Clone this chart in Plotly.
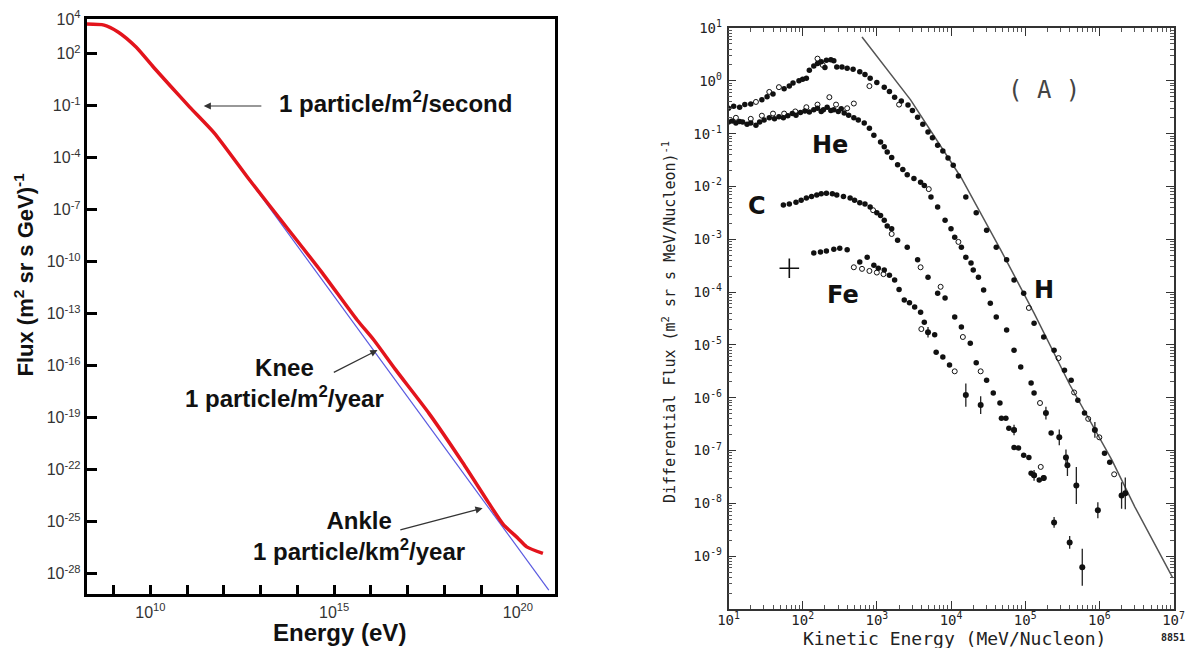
import numpy as np
import plotly.graph_objects as go

W, H = 1189, 648

# ---------------- Left panel: all-particle spectrum (log10 values) ----------------
spec_logE = [8.27, 8.74, 9.12, 9.61, 10.08, 10.57, 11.07, 11.74, 12.70, 13.70, 14.66,
             15.62, 16.08, 16.66, 17.58, 18.50, 19.20, 19.60, 20.00, 20.24, 20.68]
spec_logF = [3.71, 3.65, 3.25, 2.38, 1.23, 0.08, -1.08, -2.58, -5.29, -8.00, -10.60,
             -13.35, -14.52, -16.20, -18.75, -21.60, -23.90, -25.15, -25.95, -26.45, -26.83]
fit_logE = [12.0, 20.84]
fit_logF = [-3.29, -28.95]

left_xtick_exps = list(range(9, 21))
left_xtick_labeled = [10, 15, 20]
left_ytick_exps = [4, 2, -1, -4, -7, -10, -13, -16, -19, -22, -25, -28]

# ---------------- Right panel: element spectra (log10 values) ----------------
H_logE = [1.0, 1.07, 1.15, 1.22, 1.3, 1.45, 1.52, 1.6, 1.75, 1.82, 1.87, 1.95, 2.0, 2.05, 2.09,
          2.15, 2.2, 2.25, 2.32, 2.38, 2.42, 2.3, 2.46, 2.53, 2.6, 2.68, 2.77, 2.84, 2.91, 3.0,
          3.1, 3.17, 3.24, 3.33, 3.42, 3.48, 3.55, 3.62, 3.69, 3.75, 3.82, 3.89, 3.96, 4.03, 4.1,
          4.2, 4.34, 4.48, 4.61, 4.75, 4.85, 4.98, 5.12, 5.25, 5.39, 5.53, 5.62, 5.71, 5.8, 6.07, 6.14]
H_logF = [-0.52, -0.48, -0.50, -0.45, -0.44, -0.36, -0.30, -0.25, -0.15, -0.10, -0.04, 0.0, 0.03, 0.05, 0.20,
          0.28, 0.33, 0.36, 0.39, 0.40, 0.38, 0.25, 0.26, 0.26, 0.24, 0.22, 0.17, 0.12, 0.05, -0.03,
          -0.12, -0.20, -0.31, -0.38, -0.46, -0.56, -0.69, -0.82, -0.97, -1.08, -1.22, -1.33, -1.46, -1.60, -1.80,
          -2.2, -2.5, -2.83, -3.15, -3.39, -3.77, -4.02, -4.59, -4.85, -5.1, -5.48, -5.67, -6.05, -6.29, -7.05, -7.22]
H_open_logE = [1.37, 1.55, 1.68, 2.2, 2.27, 2.9, 3.3, 5.05, 5.45, 5.66, 5.85, 6.0, 6.2]
H_open_logF = [-0.40, -0.21, -0.12, 0.42, 0.30, -0.10, -0.45, -4.30, -5.25, -5.90, -6.40, -6.75, -7.45]

He_logE = [1.0, 1.05, 1.1, 1.15, 1.19, 1.25, 1.3, 1.37, 1.42, 1.48, 1.55, 1.62, 1.68, 1.74, 1.8,
           1.86, 1.91, 1.97, 2.03, 2.09, 2.15, 2.2, 2.25, 2.28, 2.33, 2.38, 2.42, 2.48, 2.52, 2.56,
           2.62, 2.69, 2.75, 2.83, 2.9, 2.96, 3.05, 3.1, 3.14, 3.2, 3.28, 3.35, 3.41, 3.5, 3.59,
           3.64, 3.73, 3.82, 3.92, 4.0, 4.05, 4.14, 4.2, 4.27, 4.3, 4.37, 4.44, 4.53, 4.61, 4.75,
           4.85, 4.94, 5.08, 5.12, 5.35]
He_logF = [-0.78, -0.76, -0.80, -0.77, -0.78, -0.82, -0.80, -0.84, -0.78, -0.74, -0.70, -0.72, -0.68, -0.70, -0.66,
           -0.62, -0.65, -0.60, -0.57, -0.59, -0.55, -0.52, -0.58, -0.55, -0.50, -0.56, -0.55, -0.58, -0.53, -0.61,
           -0.65, -0.70, -0.74, -0.80, -0.90, -1.03, -1.16, -1.25, -1.35, -1.45, -1.59, -1.68, -1.78, -1.85, -1.92,
           -1.98, -2.20, -2.39, -2.64, -2.80, -2.96, -3.15, -3.34, -3.45, -3.58, -3.72, -3.96, -4.21, -4.47, -4.72,
           -5.10, -5.42, -5.72, -5.91, -6.67]
He_open_logE = [1.1, 1.3, 1.45, 1.6, 1.75, 1.9, 2.05, 2.2, 2.36, 2.45, 2.6, 2.69, 3.7, 4.1, 5.2]
He_open_logF = [-0.70, -0.72, -0.66, -0.62, -0.62, -0.58, -0.50, -0.45, -0.31, -0.45, -0.52, -0.43, -2.05, -3.05, -6.10]

C_logE = [1.74, 1.82, 1.91, 1.98, 2.05, 2.12, 2.19, 2.25, 2.32, 2.4, 2.46, 2.55, 2.64, 2.7, 2.77,
          2.84, 2.91, 3.0, 3.05, 3.1, 3.14, 3.2, 3.28, 3.41, 3.55, 3.69, 3.82, 3.92, 4.05, 4.14,
          4.26, 4.34, 4.48, 4.57, 4.66, 4.74, 4.85, 4.91, 5.05, 5.12, 5.25]
C_logF = [-2.35, -2.33, -2.30, -2.26, -2.22, -2.19, -2.16, -2.14, -2.13, -2.14, -2.16, -2.19, -2.22, -2.26, -2.31,
          -2.33, -2.39, -2.50, -2.55, -2.64, -2.75, -2.80, -3.02, -3.15, -3.39, -3.72, -4.02, -4.11, -4.47, -4.66,
          -4.97, -5.34, -5.67, -5.91, -6.10, -6.39, -6.61, -6.95, -7.13, -7.47, -7.52]
C_open_logE = [2.95, 3.2, 3.59, 3.86, 4.16, 4.4, 5.21]
C_open_logF = [-2.45, -2.90, -3.53, -3.90, -4.85, -5.50, -7.31]

Fe_logE = [2.15, 2.24, 2.32, 2.42, 2.50, 2.6, 2.77, 2.87, 2.96, 3.02, 3.1, 3.17, 3.24, 3.3, 3.37,
           3.44, 3.51, 3.59, 3.64, 3.78, 3.8, 3.89, 3.98, 4.68, 4.78, 4.85, 4.98, 5.08, 5.19]
Fe_logF = [-3.26, -3.24, -3.22, -3.19, -3.17, -3.20, -3.43, -3.34, -3.49, -3.55, -3.58, -3.68, -3.77, -3.95, -4.15,
           -4.20, -4.28, -4.38, -4.57, -4.81, -5.14, -5.23, -5.38, -6.39, -6.58, -6.94, -7.09, -7.43, -7.56]
Fe_open_logE = [2.69, 2.8, 2.9, 3.0, 3.09, 3.6, 4.05]
Fe_open_logF = [-3.53, -3.56, -3.60, -3.63, -3.66, -4.70, -5.50]
Fe_cross_logE = [1.82]
Fe_cross_logF = [-3.55]

err_logE = [4.2, 4.4, 3.69, 5.39, 5.6, 5.77, 4.85, 5.12, 5.25, 5.28, 5.46, 5.55, 5.57, 5.69, 5.98, 5.94, 6.30, 6.35]
err_logF = [-5.95, -6.14, -4.76, -8.36, -8.74, -9.21, -6.61, -7.47, -7.52, -6.29, -6.75, -7.13, -7.28, -7.66, -8.13,
            -6.61, -7.85, -7.81]
err_dec = [0.22, 0.17, 0.10, 0.10, 0.12, 0.35, 0.10, 0.10, 0.05, 0.12, 0.15, 0.15, 0.20, 0.35, 0.15, 0.15, 0.25, 0.30]

Hfit_logE = [2.80, 3.455, 4.14, 4.67, 5.12, 5.6, 6.17, 6.48, 6.99]
Hfit_logF = [0.83, -0.36, -1.84, -3.2, -4.4, -5.75, -7.18, -8.07, -9.41]

right_xtick_exps = list(range(1, 8))
right_ytick_exps = list(range(1, -10, -1))


def p10(a):
    return np.power(10.0, np.asarray(a, dtype=float))


def sup(e):
    return "10<sup>%d</sup>" % e


fig = go.Figure()

# ---- left traces ----
fig.add_trace(go.Scatter(x=p10(fit_logE), y=p10(fit_logF), mode="lines",
                         line=dict(color="#5a5ae0", width=1.2), xaxis="x", yaxis="y", hoverinfo="skip"))
fig.add_trace(go.Scatter(x=p10(spec_logE), y=p10(spec_logF), mode="lines",
                         line=dict(color="#e3141c", width=3.5, shape="spline", smoothing=0.6),
                         xaxis="x", yaxis="y"))

# ---- right traces ----
mk = dict(color="#111", size=5.5)
mko = dict(color="#111", size=5, symbol="circle-open", line=dict(width=1, color="#111"))
fig.add_trace(go.Scatter(x=p10(Hfit_logE), y=p10(Hfit_logF), mode="lines",
                         line=dict(color="#555", width=1.5), xaxis="x2", yaxis="y2"))
for xe, yf in [(H_logE, H_logF), (He_logE, He_logF), (C_logE, C_logF), (Fe_logE, Fe_logF)]:
    fig.add_trace(go.Scatter(x=p10(xe), y=p10(yf), mode="markers", marker=mk, xaxis="x2", yaxis="y2"))
for xe, yf in [(H_open_logE, H_open_logF), (He_open_logE, He_open_logF),
               (C_open_logE, C_open_logF), (Fe_open_logE, Fe_open_logF)]:
    fig.add_trace(go.Scatter(x=p10(xe), y=p10(yf), mode="markers", marker=mko, xaxis="x2", yaxis="y2"))

eF = p10(err_logF)
ed = np.asarray(err_dec)
fig.add_trace(go.Scatter(x=p10(err_logE), y=eF, mode="markers", marker=dict(color="#111", size=6),
                         error_y=dict(type="data", symmetric=False, array=eF * (10 ** ed - 1),
                                      arrayminus=eF * (1 - 10 ** (-ed)), color="#222", thickness=1.3, width=0),
                         xaxis="x2", yaxis="y2"))
fig.add_trace(go.Scatter(x=p10(Fe_cross_logE), y=p10(Fe_cross_logF), mode="markers",
                         marker=dict(symbol="cross-thin-open", size=14, color="#111",
                                     line=dict(width=1.6, color="#111")),
                         xaxis="x2", yaxis="y2"))

# ---- axes ----
left_major = [e for e in left_xtick_exps if e in left_xtick_labeled]
left_minor = [e for e in left_xtick_exps if e not in left_xtick_labeled]
common_left = dict(type="log", showline=True, linewidth=3, linecolor="black", mirror=True,
                   ticks="inside", tickwidth=3, tickcolor="black", showgrid=False, zeroline=False,
                   automargin=False, tickfont=dict(family="Arial", size=16, color="#333"))
fig.update_layout(
    xaxis=dict(**common_left, range=[8.27, 21.02], domain=[86.8 / W, 555.4 / W], anchor="y",
               tickmode="array", tickvals=list(p10(left_major)), ticktext=[sup(e) for e in left_major],
               ticklen=9, ticklabelstandoff=2,
               minor=dict(tickmode="array", tickvals=list(p10(left_minor)), ticks="inside", ticklen=9,
                          tickwidth=3, tickcolor="black", showgrid=False)),
    yaxis=dict(**common_left, range=[-29.17, 4.0], domain=[1 - 594 / H, 1 - 19 / H], anchor="x",
               tickmode="array", tickvals=list(p10(left_ytick_exps)),
               ticktext=[sup(e) for e in left_ytick_exps], ticklen=10, ticklabelstandoff=0),
)

minor_x = [m * 10.0 ** k for k in range(1, 7) for m in range(2, 10)]
minor_y = [m * 10.0 ** k for k in range(-10, 1) for m in range(2, 10)]
common_right = dict(type="log", showline=True, linewidth=1.5, linecolor="#333", mirror="allticks",
                    ticks="inside", ticklen=8, tickwidth=1.3, tickcolor="#333", showgrid=False, zeroline=False,
                    automargin=False, tickfont=dict(family="DejaVu Sans Mono", size=14, color="#222"))
fig.update_layout(
    xaxis2=dict(**common_right, range=[1, 7], domain=[728.5 / W, 1173.5 / W], anchor="y2",
                tickmode="array", tickvals=list(p10(right_xtick_exps)),
                ticktext=[sup(e) for e in right_xtick_exps], ticklabelstandoff=-3,
                minor=dict(tickmode="array", tickvals=minor_x, ticks="inside", ticklen=4,
                           tickwidth=1, tickcolor="#555")),
    yaxis2=dict(**common_right, range=[-10, 1], domain=[1 - 609 / H, 1 - 28 / H], anchor="x2",
                tickmode="array", tickvals=list(p10(right_ytick_exps)),
                ticktext=[sup(e) for e in right_ytick_exps], ticklabelstandoff=2,
                minor=dict(tickmode="array", tickvals=minor_y, ticks="inside", ticklen=4,
                           tickwidth=1, tickcolor="#555")),
)

# ---- annotations ----
C = dict(xanchor="center", yanchor="middle", showarrow=False)
bold = dict(family="Arial", size=24, color="#111")
ann = []
# left panel texts (data coords: log10 values)
ann.append(dict(C, xref="x", yref="y", x=16.67, y=-0.79, text="<b>1 particle/m<sup>2</sup>/second</b>",
                font=bold))
ann.append(dict(C, xref="x", yref="y", x=13.64, y=-17.0, text="<b>Knee<br>1 particle/m<sup>2</sup>/year</b>",
                font=bold))
ann.append(dict(C, xref="x", yref="y", x=15.68, y=-25.83, text="<b>Ankle<br>1 particle/km<sup>2</sup>/year</b>",
                font=bold))
for (tx, ty, hx, hy) in [(13.06, -1.02, 11.45, -1.02), (14.95, -16.43, 16.18, -15.1), (16.76, -25.49, 19.04, -24.22)]:
    ann.append(dict(xref="x", yref="y", axref="x", ayref="y", x=hx, y=hy, ax=tx, ay=ty, text="",
                    showarrow=True, arrowhead=2, arrowsize=1.2, arrowwidth=1.2, arrowcolor="#333"))
# left titles
ann.append(dict(C, xref="paper", yref="paper", x=23.5 / W, y=1 - 275 / H, textangle=-90,
                text="<b>Flux (m<sup>2</sup> sr s GeV)<sup>-1</sup></b>",
                font=dict(family="Arial", size=22, color="#111")))
ann.append(dict(C, xref="paper", yref="paper", x=339 / W, y=1 - 632 / H,
                text="<b>Energy (eV)</b>", font=bold))
# right panel labels
lab = dict(family="DejaVu Sans", size=24, color="#111")
for txt, lx, ly in [("<b>He</b>", 2.364, -1.215), ("<b>C</b>", 1.382, -2.37),
                    ("<b>Fe</b>", 2.541, -4.055), ("<b>H</b>", 5.255, -3.96)]:
    ann.append(dict(C, xref="x2", yref="y2", x=lx, y=ly, text=txt, font=lab))
ann.append(dict(C, xref="x2", yref="y2", x=5.255, y=-0.174, text="( A )",
                font=dict(family="DejaVu Sans Mono", size=24, color="#444")))
ann.append(dict(C, xref="paper", yref="paper", x=669 / W, y=1 - 322 / H, textangle=-90,
                text="Differential Flux (m<sup>2</sup> sr s MeV/Nucleon)<sup>-1</sup>",
                font=dict(family="DejaVu Sans Mono", size=15, color="#222")))
ann.append(dict(C, xref="paper", yref="paper", x=954 / W, y=1 - 638 / H,
                text="Kinetic Energy (MeV/Nucleon)",
                font=dict(family="DejaVu Sans Mono", size=18, color="#222")))
ann.append(dict(C, xref="paper", yref="paper", x=1173 / W, y=1 - 637 / H,
                text="<b>8851</b>",
                font=dict(family="DejaVu Sans Mono", size=10, color="#222")))

fig.update_layout(annotations=ann, width=W, height=H, margin=dict(l=0, r=0, t=0, b=0, autoexpand=False),
                  paper_bgcolor="white", plot_bgcolor="white", showlegend=False)

fig.write_html("out.html", config={"displayModeBar": False},
               post_script="document.body.style.margin='0';document.body.style.overflow='hidden';")
